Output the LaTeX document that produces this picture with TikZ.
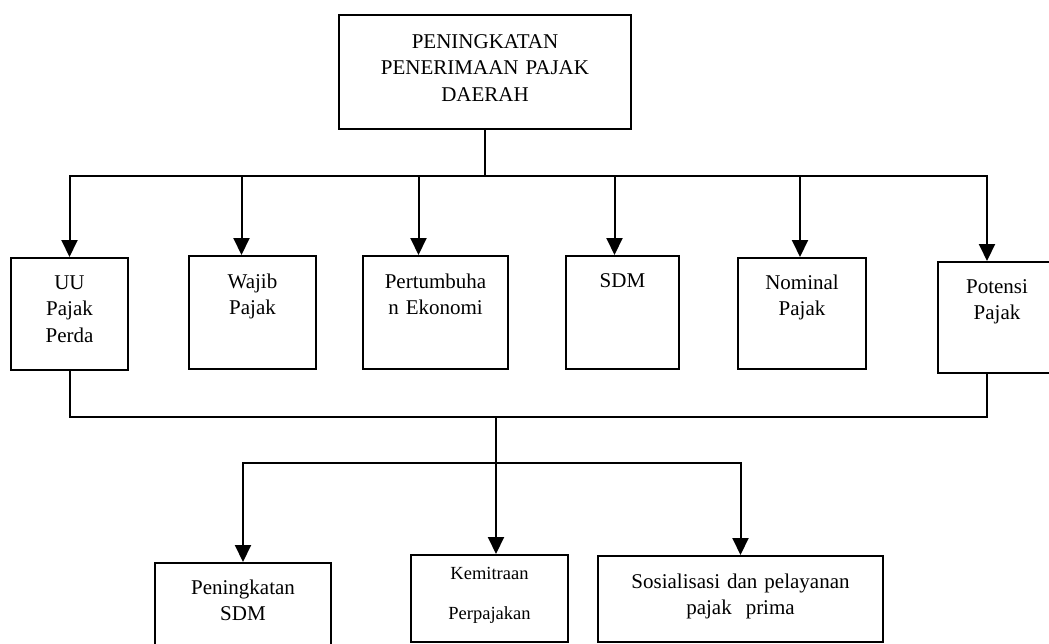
\documentclass[tikz,border=0pt]{standalone}
\usepackage{fontspec}
\setmainfont{Liberation Serif}
\usetikzlibrary{arrows.meta}

\begin{document}
\begin{tikzpicture}[
  x=1pt, y=-1pt,
  box/.style={draw, line width=2pt, inner sep=0pt, anchor=north west,
    align=center, font=\fontsize{21}{26.5}\selectfont},
  link/.style={line width=2pt},
  edge/.style={-{Triangle[length=17pt, width=16pt]}, line width=2pt}
]
\useasboundingbox (0,0) rectangle (1049,643);

% goal
\node[box, text width=292pt, text height=33pt, text depth=81pt] (goal) at (338,14)
  {PENINGKATAN\\ PENERIMAAN PAJAK\\ DAERAH};

% factors
\node[box, text width=117pt, text height=31pt, text depth=81pt] (uu) at (10,257) {UU\\ Pajak\\ Perda};
\node[box, text width=127pt, text height=32pt, text depth=81pt] (wajib) at (188,255) {Wajib\\ Pajak};
\node[box, text width=145pt, text height=32pt, text depth=81pt] (tumbuh) at (362,255) {Pertumbuha\\ n Ekonomi};
\node[box, text width=113pt, text height=31pt, text depth=82pt] (sdm) at (565,255) {SDM};
\node[box, text width=128pt, text height=31pt, text depth=80pt] (nominal) at (737,257) {Nominal\\ Pajak};
\node[box, text width=118pt, text height=31pt, text depth=80pt] (potensi) at (937,261) {Potensi\\ Pajak};

% strategies
\node[box, text width=176pt, text height=31pt, text depth=60pt] (latih) at (154,562) {Peningkatan\\ SDM};
\node[box, text width=157pt, text height=24pt, text depth=63pt,
  font=\fontsize{18.5}{40}\selectfont] (mitra) at (410,554) {Kemitraan\\ Perpajakan};
\node[box, text width=285pt, text height=32pt, text depth=54pt] (sosial) at (597,555)
  {Sosialisasi dan pelayanan\\ pajak~~prima};

\coordinate (bus1) at (goal.south |- 0,176);
\coordinate (bus2) at (496,417);
\coordinate (bus3) at (496,463);

\draw[link] (goal.south) -- (bus1);
\draw[edge] (bus1) -| (uu.north);
\draw[edge] (bus1) -| ([xshift=-11pt]wajib.north);
\draw[edge] (bus1) -| ([xshift=-17pt]tumbuh.north);
\draw[edge] (bus1) -| ([xshift=-8pt]sdm.north);
\draw[edge] (bus1) -| ([xshift=-2pt]nominal.north);
\draw[edge] (bus1) -| ([xshift=-10pt]potensi.north);

\draw[link] (uu.south) |- (bus2) -| ([xshift=-10pt]potensi.south);
\draw[edge] (bus2) -- (bus2 |- mitra.north);
\draw[edge] (bus3) -| (latih.north);
\draw[edge] (bus3) -| (sosial.north);
\end{tikzpicture}
\end{document}
